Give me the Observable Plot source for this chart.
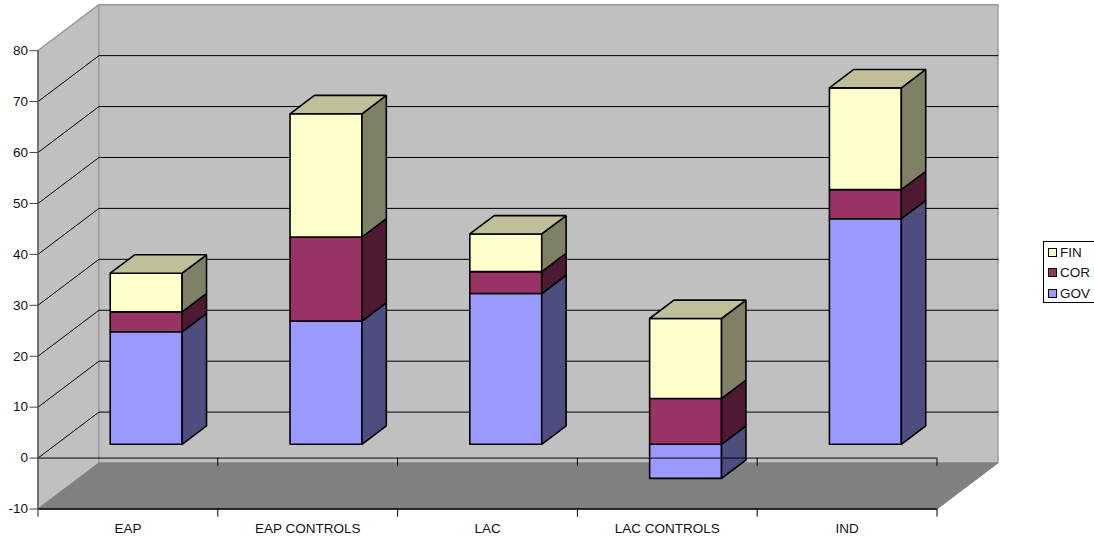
<!DOCTYPE html>
<html>
<head>
<meta charset="utf-8">
<script src="https://cdn.jsdelivr.net/npm/d3@7"></script>
<script src="https://cdn.jsdelivr.net/npm/@observablehq/plot@0.6"></script>
<style>
html,body{margin:0;padding:0;background:#fff;overflow:hidden}
#chart{position:relative;width:1094px;height:544px;font-family:"Liberation Sans",Arial,sans-serif}
#chart svg{display:block;background:#fff}
.legend{position:absolute;left:1043px;top:241px;width:52px;height:62px;box-sizing:border-box;border:1px solid #000;background:#fff;font-size:13.5px;color:#111}
.legend div{position:absolute;left:16px;line-height:15px;height:15px}
.legend i{position:absolute;left:-12px;top:3px;width:7px;height:7px;border:1px solid #000;display:block}
</style>
</head>
<body>
<div id="chart"></div>
<script>
const categories = ["EAP", "EAP CONTROLS", "LAC", "LAC CONTROLS", "IND"];
const GOV = [22.1, 24.2, 29.6, -6.7, 44.3];
const COR = [3.9, 16.5, 4.3, 9.0, 5.7];
const FIN = [7.6, 24.2, 7.4, 15.7, 20.0];
const yTicks = [-10, 0, 10, 20, 30, 40, 50, 60, 70, 80];

const seriesNames = ["GOV", "COR", "FIN"];
const seriesValues = [GOV, COR, FIN];
const frontColors = ["#9999ff", "#993366", "#ffffcc"];
const sideColors = ["#4d4d80", "#4d1933", "#808066"];
const topColors = ["#bfbfe6", "#bf8099", "#bfbf99"];

// oblique projection, in data units: one full depth of the floor
const depthX = 0.339, depthY = 9.03;
const yMin = -10, yMax = 80;
const px = (c, d) => c + d * depthX;
const py = (v, d) => v + d * depthY;
const poly = (id, fill, pts) =>
  [...pts, pts[0]].map(([c, v, d]) => ({id, fill, x: px(c, d), y: py(v, d)}));

const n = categories.length;
const walls = [
  ...poly("side", "#c0c0c0", [[0, yMin, 0], [0, yMax, 0], [0, yMax, 1], [0, yMin, 1]]),
  ...poly("back", "#c0c0c0", [[0, yMin, 1], [0, yMax, 1], [n, yMax, 1], [n, yMin, 1]])
];
const floor = poly("floor", "#808080", [[0, yMin, 0], [n, yMin, 0], [n, yMin, 1], [0, yMin, 1]]);

const gridLines = yTicks.filter(v => v > yMin && v < yMax).flatMap(v => [
  {id: v, x: px(0, 0), y: py(v, 0)},
  {id: v, x: px(0, 1), y: py(v, 1)},
  {id: v, x: px(n, 1), y: py(v, 1)}
]);

// stacked bars, each a small box between depths 0.3 and 0.7
const d0 = 0.3, d1 = 0.7, left = 0.3, right = 0.7;
const barFaces = [];
categories.forEach((cat, i) => {
  let pos = 0, neg = 0;
  const spans = seriesValues.map((vals, s) => {
    const v = vals[i];
    let a, b;
    if (v >= 0) { a = pos; b = pos + v; pos = b; }
    else { b = neg; a = neg + v; neg = a; }
    return {s, a, b};
  });
  const order = spans.slice().sort((p, q) => p.a - q.a);
  order.forEach(({s, a, b}, k) => {
    const c0 = i + left, c1 = i + right, id = cat + seriesNames[s];
    barFaces.push(...poly(id + "f", frontColors[s], [[c0, a, d0], [c1, a, d0], [c1, b, d0], [c0, b, d0]]));
    barFaces.push(...poly(id + "s", sideColors[s], [[c1, a, d0], [c1, a, d1], [c1, b, d1], [c1, b, d0]]));
    if (k === order.length - 1)
      barFaces.push(...poly(id + "t", topColors[s], [[c0, b, d0], [c1, b, d0], [c1, b, d1], [c0, b, d1]]));
  });
});

const boundaries = d3.range(0, n + 1);
const centers = categories.map((_, i) => i + 0.5);

const chart = Plot.plot({
  width: 1094,
  height: 544,
  marginLeft: 37.5,
  marginRight: 157.5,
  marginTop: 50.2,
  marginBottom: 35.5,
  style: {fontFamily: '"Liberation Sans", Arial, sans-serif', background: "#fff", color: "#111"},
  x: {type: "linear", domain: [0, n]},
  y: {type: "linear", domain: [yMin, yMax]},
  color: {type: "identity"},
  marks: [
    Plot.line(walls, {x: "x", y: "y", z: "id", fill: "fill", stroke: "#999", strokeWidth: 1.5, strokeLinejoin: "miter"}),
    Plot.line(floor, {x: "x", y: "y", z: "id", fill: "fill", stroke: "#808080", strokeWidth: 1, strokeLinejoin: "miter"}),
    Plot.line(gridLines, {x: "x", y: "y", z: "id", stroke: "#000", strokeWidth: 1}),
    Plot.line(barFaces, {x: "x", y: "y", z: "id", fill: "fill", stroke: "#000", strokeWidth: 1.6, strokeLinejoin: "miter"}),
    Plot.ruleY([0], {x1: 0, x2: n, stroke: "#000", strokeWidth: 1}),
    Plot.ruleY([yMin], {x1: 0, x2: n, stroke: "#000", strokeWidth: 1.3}),
    Plot.ruleX(boundaries.slice(1), {y1: 0, y2: -1.6, stroke: "#000", strokeWidth: 1}),
    Plot.ruleX(boundaries.slice(1), {y1: yMin, y2: yMin - 1.6, stroke: "#000", strokeWidth: 1}),
    Plot.ruleX([0], {y1: yMin - 1.6, y2: yMax, stroke: "#555", strokeWidth: 1.3}),
    Plot.axisY({
      ticks: yTicks, tickSize: 8, tickPadding: 2, fontSize: 13.5, label: null, stroke: "#444",
      tickFormat: d => String(d)
    }),
    Plot.axisX({
      ticks: centers, tickSize: 0, tickPadding: 14, fontSize: 13.5, label: null, anchor: "bottom",
      tickFormat: d => categories[Math.floor(d)]
    })
  ]
});

const host = document.getElementById("chart");
host.appendChild(chart);

const legend = document.createElement("div");
legend.className = "legend";
[2, 1, 0].forEach((s, row) => {
  const item = document.createElement("div");
  item.style.top = (2.5 + row * 20.5) + "px";
  item.textContent = seriesNames[s];
  const sw = document.createElement("i");
  sw.style.background = frontColors[s];
  item.appendChild(sw);
  legend.appendChild(item);
});
host.appendChild(legend);
</script>
</body>
</html>
